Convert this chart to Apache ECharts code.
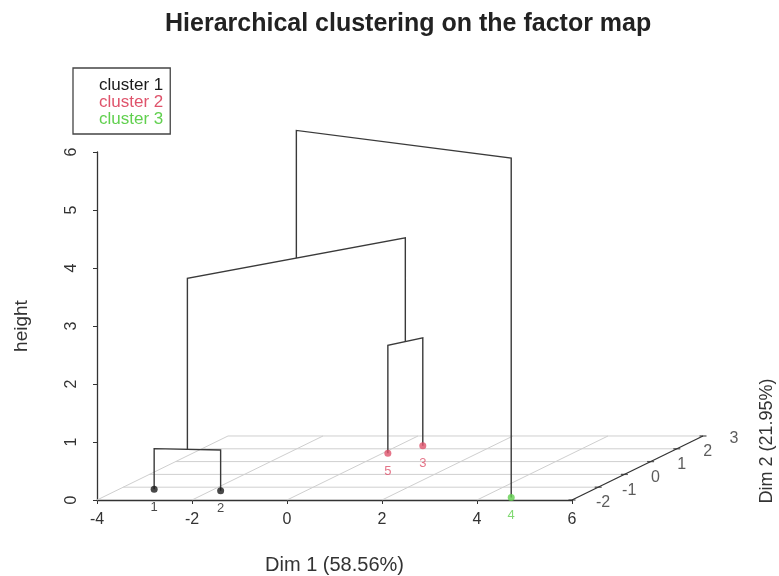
<!DOCTYPE html>
<html>
<head>
<meta charset="utf-8">
<script src="https://cdn.jsdelivr.net/npm/echarts@6/dist/echarts.min.js"></script>
<style>html,body{margin:0;padding:0;background:#fff;}#chart{width:779px;height:576px;}</style>
</head>
<body>
<div id="chart"></div>
<script>
// ---- data ----
const obsLabels = ['1', '2', '3', '4', '5'];
const dim1 = [-3.26, -1.80, 0.52, 4.61, 0.11];
const dim2 = [-1.16, -1.27, 2.24, -1.80, 1.65];
const obsCluster = [1, 1, 2, 3, 2];
// hclust-style merge table: negative = observation index (1-based), positive = earlier merge
const mergePairs = [[-1, -2], [-3, -5], [1, 2], [3, -4]];
const mergeHeights = [0.70, 1.86, 3.65, 5.85];
const clusterNames = ['cluster 1', 'cluster 2', 'cluster 3'];
const dim1Ticks = [-4, -2, 0, 2, 4, 6];
const dim2Ticks = [-2, -1, 0, 1, 2, 3];
const heightTicks = [0, 1, 2, 3, 4, 5, 6];

// ---- style ----
const clusterColors = ['#1a1a1a', '#DF536B', '#61D04F'];
const FONT = 'Liberation Sans, Arial, sans-serif';
const DX = 0.5516, DZ = 0.2207; // oblique projection of Dim 2 (scatterplot3d look)
const d2min = dim2Ticks[0], d2max = dim2Ticks[dim2Ticks.length - 1];
const d1min = dim1Ticks[0], d1max = dim1Ticks[dim1Ticks.length - 1];
function proj(x, y, z) { return [x + DX * (y - d2min), z + DZ * (y - d2min)]; }

// node positions
const nodePos = {};
function pos(id) {
  if (id < 0) { const i = -id - 1; return { x: dim1[i], y: dim2[i], z: 0 }; }
  return nodePos[id];
}
const dendroLines = [];
mergePairs.forEach((p, k) => {
  const a = pos(p[0]), b = pos(p[1]), h = mergeHeights[k];
  nodePos[k + 1] = { x: (a.x + b.x) / 2, y: (a.y + b.y) / 2, z: h };
  dendroLines.push({ coords: [proj(a.x, a.y, a.z), proj(a.x, a.y, h), proj(b.x, b.y, h), proj(b.x, b.y, b.z)] });
});

// floor grid
const floorLines = [];
dim2Ticks.forEach(t => { if (t !== d2min) floorLines.push({ coords: [proj(d1min, t, 0), proj(d1max, t, 0)] }); });
dim1Ticks.forEach(t => { if (t !== d1max) floorLines.push({ coords: [proj(t, d2min, 0), proj(t, d2max, 0)] }); });

const dim2AxisLine = [{ coords: [proj(d1max, d2min, 0), proj(d1max, d2max, 0)] }];
const dim2TickData = dim2Ticks.map(t => ({ value: proj(d1max, t, 0), name: String(t) }));

const clusterSeries = clusterNames.map((nm, c) => ({
  type: 'scatter', name: nm, clip: false, z: 5,
  symbol: 'circle', symbolSize: 7,
  itemStyle: { color: clusterColors[c] },
  label: {
    show: true, position: 'inside', offset: [0, 18], color: clusterColors[c],
    fontSize: 13, fontFamily: FONT, formatter: p => p.name
  },
  data: obsLabels.map((l, i) => obsCluster[i] === c + 1 ? { name: l, value: proj(dim1[i], dim2[i], 0) } : null).filter(Boolean)
}));

const chart = echarts.init(document.getElementById('chart'));
chart.setOption({
  animation: false,
  backgroundColor: '#fff',
  title: {
    text: 'Hierarchical clustering on the factor map', left: 160, top: 7,
    textStyle: { fontSize: 25, fontWeight: 'bold', color: '#222', fontFamily: FONT }
  },
  legend: {
    orient: 'vertical', left: 73, top: 68, selectedMode: false,
    icon: 'none', itemWidth: 0, itemHeight: 14, itemGap: 0,
    padding: [9, 7, 6, 21], borderColor: '#444', borderWidth: 1.3,
    textStyle: { fontSize: 17, fontFamily: FONT },
    data: clusterNames.map((n, c) => ({ name: n, textStyle: { color: clusterColors[c] } }))
  },
  grid: { left: 97, right: 207, top: 152, bottom: 76, containLabel: false, outerBoundsMode: 'none' },
  xAxis: {
    type: 'value', min: d1min, max: d1max, interval: 2,
    splitLine: { show: false },
    axisLine: { lineStyle: { color: '#333', width: 1.3 } },
    axisTick: { length: 4, lineStyle: { color: '#333' } },
    axisLabel: { fontSize: 16, margin: 12, color: '#333', fontFamily: FONT },
    name: 'Dim 1 (58.56%)', nameLocation: 'middle', nameGap: 55,
    nameTextStyle: { fontSize: 20, color: '#333', fontFamily: FONT }
  },
  yAxis: {
    type: 'value', min: heightTicks[0], max: heightTicks[heightTicks.length - 1], interval: 1,
    splitLine: { show: false },
    axisLine: { show: true, onZero: false, lineStyle: { color: '#333', width: 1.3 } },
    axisTick: { show: true, length: 4, lineStyle: { color: '#333' } },
    axisLabel: { rotate: 90, fontSize: 16, margin: 17, color: '#333', fontFamily: FONT },
    name: 'height', nameLocation: 'middle', nameRotate: 90, nameGap: 66,
    nameTextStyle: { fontSize: 19, color: '#333', fontFamily: FONT }
  },
  graphic: [{
    type: 'text', x: 767, y: 441, rotation: Math.PI / 2,
    style: { text: 'Dim 2 (21.95%)', fontSize: 18, fill: '#333', fontFamily: FONT, align: 'center', verticalAlign: 'middle' }
  }],
  series: [
    { type: 'lines', coordinateSystem: 'cartesian2d', polyline: true, clip: false, silent: true, z: 1,
      lineStyle: { color: '#cfcfcf', width: 1, opacity: 1 }, data: floorLines },
    { type: 'lines', coordinateSystem: 'cartesian2d', polyline: true, clip: false, silent: true, z: 2,
      lineStyle: { color: '#333', width: 1.3, opacity: 1 }, data: dim2AxisLine },
    { type: 'scatter', clip: false, silent: true, z: 2, symbol: 'rect', symbolSize: [7, 1.3],
      itemStyle: { color: '#333' },
      label: { show: true, position: 'inside', offset: [31, 3], fontSize: 16, color: '#333', fontFamily: FONT, formatter: p => p.name },
      data: dim2TickData },
    { type: 'lines', coordinateSystem: 'cartesian2d', polyline: true, clip: false, silent: true, z: 3,
      lineStyle: { color: '#3a3a3a', width: 1.4, opacity: 1 }, data: dendroLines },
    ...clusterSeries
  ]
});
</script>
</body>
</html>
